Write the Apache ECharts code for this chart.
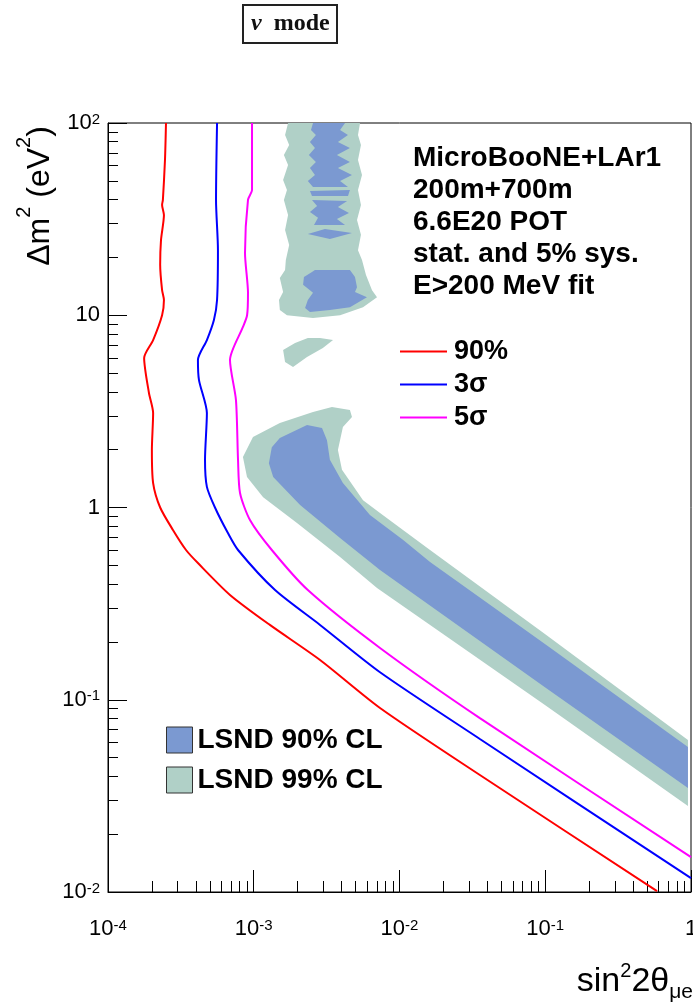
<!DOCTYPE html>
<html><head><meta charset="utf-8">
<script src="https://cdn.jsdelivr.net/npm/echarts@6/dist/echarts.min.js"></script>
<style>html,body{margin:0;padding:0;background:#fff}#c{width:693px;height:1005px}</style>
</head><body><div id="c"></div>
<script>
// ---- tick values / labels ----
const xTickValues = [1e-4, 1e-3, 1e-2, 1e-1, 1];
const xTickLabels = ['10{s|-4}', '10{s|-3}', '10{s|-2}', '10{s|-1}', '1'];
const yTickValues = [1e-2, 1e-1, 1, 10, 100];
const yTickLabels = ['10{s|-2}', '10{s|-1}', '1', '10', '10{s|2}'];

// ---- sensitivity contours [sin^2 2theta, dm^2] ----
const curve90 = [
  [2.50e-4, 100], [2.46e-4, 64.2], [2.38e-4, 39.8], [2.35e-4, 37.5], [2.42e-4, 33.2],
  [2.31e-4, 24.6], [2.28e-4, 18.3], [2.35e-4, 13.5], [2.42e-4, 12.0], [2.35e-4, 10.0],
  [2.04e-4, 7.43], [1.77e-4, 6.0], [1.91e-4, 3.94], [2.04e-4, 3.10], [2.00e-4, 1.99],
  [2.04e-4, 1.34], [2.28e-4, 1.0], [2.79e-4, 0.764], [3.43e-4, 0.601], [4.14e-4, 0.514],
  [6.87e-4, 0.351], [1.29e-3, 0.245], [2.85e-3, 0.161], [7.35e-3, 0.0906],
  [0.0356, 0.0406], [0.585, 0.0101]
];
const curve3s = [
  [5.60e-4, 100], [5.51e-4, 39.8], [5.68e-4, 21.8], [5.60e-4, 12.0], [5.33e-4, 9.45],
  [4.77e-4, 7.43], [4.14e-4, 5.85], [4.21e-4, 4.60], [4.77e-4, 3.10], [4.63e-4, 1.77],
  [4.77e-4, 1.28], [5.42e-4, 1.0], [6.65e-4, 0.736], [7.80e-4, 0.601], [1.40e-3, 0.372],
  [2.85e-3, 0.245], [7.35e-3, 0.139], [0.0356, 0.0625], [1.0, 0.0118]
];
const curve5s = [
  [9.73e-4, 100], [9.73e-4, 44.8], [9.13e-4, 39.8], [8.71e-4, 21.1], [9.13e-4, 13.1],
  [9.0e-4, 10.0], [8.43e-4, 8.69], [6.87e-4, 5.85], [7.55e-4, 3.62], [7.80e-4, 1.77],
  [8.05e-4, 1.19], [9.42e-4, 0.861], [1.33e-3, 0.601], [2.35e-3, 0.372], [7.35e-3, 0.186],
  [0.0356, 0.0803], [1.0, 0.0152]
];

// ---- LSND allowed regions (polygons) ----
const lsnd99Band = [
  [0.953, 0.0617], [0.0995, 0.220], [0.0162, 0.601], [7.35e-3, 0.935], [5.62e-3, 1.09],
  [4.03e-3, 1.57], [3.78e-3, 1.99], [4.09e-3, 2.62], [4.72e-3, 2.96], [4.57e-3, 3.21],
  [3.44e-3, 3.33], [2.55e-3, 3.14], [1.51e-3, 2.75], [9.88e-4, 2.33], [8.43e-4, 1.83],
  [8.99e-4, 1.44], [1.16e-3, 1.13], [1.98e-3, 0.830], [3.91e-3, 0.553], [7.01e-3, 0.381],
  [0.0995, 0.0939], [0.953, 0.0280]
];
const lsnd99Upper = [
  [1.72e-3, 100], [1.64e-3, 86.6], [1.75e-3, 76.8], [1.61e-3, 68.2], [1.72e-3, 60.5],
  [1.59e-3, 50.5], [1.69e-3, 44.8], [1.61e-3, 39.8], [1.72e-3, 33.2], [1.64e-3, 27.8],
  [1.75e-3, 23.2], [1.66e-3, 19.4], [1.64e-3, 17.2], [1.51e-3, 15.6], [1.59e-3, 13.2],
  [1.49e-3, 12.0], [1.51e-3, 10.65], [1.69e-3, 10.0], [2.55e-3, 9.67], [3.91e-3, 10.0],
  [5.62e-3, 11.0], [7.01e-3, 12.4], [6.48e-3, 13.5], [5.89e-3, 16.2], [5.53e-3, 19.4],
  [5.19e-3, 21.8], [5.44e-3, 26.2], [5.11e-3, 31.3], [5.44e-3, 37.5], [5.19e-3, 44.8],
  [5.53e-3, 53.6], [5.19e-3, 64.2], [5.44e-3, 76.8], [5.19e-3, 86.6], [5.36e-3, 100]
];
const lsnd99Island = [
  [1.59e-3, 6.60], [1.92e-3, 7.17], [2.35e-3, 7.61], [2.85e-3, 7.61], [3.50e-3, 7.43],
  [2.98e-3, 6.75], [2.32e-3, 6.06], [1.86e-3, 5.38], [1.64e-3, 5.71]
];
const lsnd90Band = [
  [0.953, 0.0568], [0.0995, 0.195], [0.0162, 0.521], [0.0106, 0.678], [6.27e-3, 0.914],
  [4.09e-3, 1.34], [3.33e-3, 1.77], [3.18e-3, 2.24], [2.94e-3, 2.59], [2.32e-3, 2.69],
  [1.51e-3, 2.30], [1.33e-3, 2.06], [1.27e-3, 1.70], [1.36e-3, 1.44], [2.08e-3, 1.03],
  [3.91e-3, 0.694], [7.35e-3, 0.473], [0.0995, 0.116], [0.953, 0.0348]
];
const lsnd90Column = [
  [2.55e-3, 100], [4.23e-3, 100], [3.91e-3, 91.9], [4.43e-3, 86.6], [3.78e-3, 79.6],
  [4.57e-3, 74.1], [3.72e-3, 68.2], [4.57e-3, 62.7], [3.78e-3, 58.3], [4.72e-3, 53.6],
  [3.91e-3, 49.9], [4.43e-3, 46.5], [2.55e-3, 46.5], [2.35e-3, 49.9], [2.63e-3, 53.6],
  [2.43e-3, 58.3], [2.67e-3, 62.7], [2.39e-3, 68.2], [2.63e-3, 74.1], [2.43e-3, 79.6],
  [2.67e-3, 86.6], [2.47e-3, 91.9]
];
const lsnd90Stripe = [[2.43e-3, 44.3], [4.57e-3, 44.8], [4.43e-3, 41.7], [2.51e-3, 41.7]];
const lsnd90Comb = [
  [2.51e-3, 39.8], [4.37e-3, 39.3], [3.78e-3, 36.6], [4.50e-3, 34.0], [3.72e-3, 31.7],
  [4.23e-3, 29.5], [2.59e-3, 29.5], [2.76e-3, 32.1], [2.43e-3, 34.4], [2.72e-3, 37.0]
];
const lsnd90Lens = [[2.35e-3, 26.5], [3.08e-3, 28.1], [4.72e-3, 26.8], [3.33e-3, 24.9]];
const lsnd90Blob = [
  [2.63e-3, 17.2], [4.57e-3, 17.2], [4.95e-3, 15.8], [5.11e-3, 14.0], [4.95e-3, 13.2],
  [5.98e-3, 12.4], [4.57e-3, 11.0], [3.33e-3, 10.65], [2.43e-3, 10.4], [2.25e-3, 10.9],
  [2.35e-3, 12.0], [2.55e-3, 13.1], [2.43e-3, 13.5], [2.18e-3, 14.4], [2.21e-3, 15.8],
  [2.51e-3, 16.8]
];

const infoLines = ['MicroBooNE+LAr1', '200m+700m', '6.6E20 POT', 'stat. and 5% sys.', 'E>200 MeV fit'];

// ---- minor tick positions (log decades) ----
function minorTicks(d0, d1) {
  const out = [];
  for (let d = d0; d < d1; d++) for (let k = 2; k <= 9; k++) out.push(k * Math.pow(10, d));
  return out;
}
const xMinor = minorTicks(-4, 0);
const yMinor = minorTicks(-2, 2);

const FONT = 'Liberation Sans, Arial, sans-serif';
const C99 = '#b0d0c7';
const C90 = '#7b99d1';

function labelFor(values, labels) {
  return function (v) {
    const lv = Math.log10(v);
    for (let i = 0; i < values.length; i++) {
      if (Math.abs(Math.log10(values[i]) - lv) < 1e-6) return labels[i];
    }
    return '';
  };
}
const labelRich = {
  s: { fontSize: 15, fontFamily: FONT, color: '#000', verticalAlign: 'top', lineHeight: 14, padding: [0, 0, 10, 0] }
};

function polySeries(name, color, polys) {
  return {
    name: name,
    type: 'custom',
    coordinateSystem: 'cartesian2d',
    xAxisIndex: 0, yAxisIndex: 0,
    itemStyle: { color: color },
    silent: true,
    data: polys.map(p => [p[0][0], p[0][1]]),
    renderItem: function (params, api) {
      const pts = polys[params.dataIndex].map(p => api.coord(p));
      return { type: 'polygon', shape: { points: pts }, style: { fill: color, stroke: null } };
    }
  };
}

function lineSeries(name, color, data) {
  return {
    name: name, type: 'line', data: data, showSymbol: false, symbol: 'none',
    xAxisIndex: 0, yAxisIndex: 0, smooth: 0.25,
    lineStyle: { color: color, width: 2 }, itemStyle: { color: color },
    clip: true, silent: true, animation: false
  };
}

const chart = echarts.init(document.getElementById('c'), null, { renderer: 'canvas' });
chart.setOption({
  animation: false,
  backgroundColor: '#fff',
  title: {
    text: '{i|ν} mode',
    left: 243, top: 5,
    padding: [7, 8, 7, 8],
    borderColor: '#222', borderWidth: 2,
    textStyle: {
      fontFamily: 'Liberation Serif, Times New Roman, serif', fontSize: 24, fontWeight: 'bold', color: '#111',
      rich: { i: { fontFamily: 'Liberation Serif, serif', fontSize: 24, fontStyle: 'italic', color: '#111', padding: [0, 6, 0, 0] } }
    }
  },
  grid: {
    left: 108, top: 123, width: 583, height: 769,
    show: true, borderColor: '#000', borderWidth: 1, backgroundColor: 'transparent',
    containLabel: false, outerBoundsMode: 'none'
  },
  legend: [
    {
      data: ['90%', '3σ', '5σ'],
      orient: 'vertical', left: 395, top: 333,
      icon: 'rect', itemWidth: 47, itemHeight: 2, itemGap: 6,
      selectedMode: false,
      textStyle: { fontFamily: FONT, fontSize: 27, fontWeight: 'bold', color: '#000', lineHeight: 27, padding: [0, 0, 0, 2] }
    },
    {
      data: ['LSND 90% CL', 'LSND 99% CL'],
      orient: 'vertical', left: 161, top: 721,
      icon: 'rect', itemWidth: 26, itemHeight: 26, itemGap: 12,
      selectedMode: false,
      itemStyle: { borderColor: '#333', borderWidth: 1 },
      textStyle: { fontFamily: FONT, fontSize: 28, fontWeight: 'bold', color: '#000', lineHeight: 26, padding: [0, 0, 0, 0] }
    }
  ],
  xAxis: [
    {
      type: 'log', logBase: 10, min: 1e-4, max: 1, position: 'bottom',
      axisLine: { show: true, lineStyle: { color: '#000', width: 1 } },
      axisTick: { show: true, inside: true, length: 22, customValues: xTickValues, lineStyle: { color: '#000', width: 1 } },
      axisLabel: {
        show: true, customValues: xTickValues, margin: 26, formatter: labelFor(xTickValues, xTickLabels),
        fontFamily: FONT, fontSize: 22, color: '#000', rich: labelRich
      },
      splitLine: { show: false }, minorTick: { show: false }
    },
    {
      type: 'log', logBase: 10, min: 1e-4, max: 1, position: 'bottom',
      axisLine: { show: false },
      axisTick: { show: true, inside: true, length: 11, customValues: xMinor, lineStyle: { color: '#000', width: 1 } },
      axisLabel: { show: false },
      splitLine: { show: false }
    }
  ],
  yAxis: [
    {
      type: 'log', logBase: 10, min: 1e-2, max: 100, position: 'left',
      axisLine: { show: true, lineStyle: { color: '#000', width: 1 } },
      axisTick: { show: true, inside: true, length: 19, customValues: yTickValues, lineStyle: { color: '#000', width: 1 } },
      axisLabel: {
        show: true, customValues: yTickValues, margin: 8, formatter: labelFor(yTickValues, yTickLabels),
        fontFamily: FONT, fontSize: 22, color: '#000', rich: labelRich
      },
      splitLine: { show: false }, minorTick: { show: false }
    },
    {
      type: 'log', logBase: 10, min: 1e-2, max: 100, position: 'left',
      axisLine: { show: false },
      axisTick: { show: true, inside: true, length: 10, customValues: yMinor, lineStyle: { color: '#000', width: 1 } },
      axisLabel: { show: false },
      splitLine: { show: false }
    }
  ],
  series: [
    polySeries('LSND 99% CL', C99, [lsnd99Band, lsnd99Upper, lsnd99Island]),
    polySeries('LSND 90% CL', C90, [lsnd90Band, lsnd90Column, lsnd90Stripe, lsnd90Comb, lsnd90Lens, lsnd90Blob]),
    lineSeries('90%', '#ff0000', curve90),
    lineSeries('3σ', '#0000ff', curve3s),
    lineSeries('5σ', '#ff00ff', curve5s)
  ],
  graphic: [
    {
      type: 'text', left: 413, top: 142,
      style: { text: infoLines.join('\n'), font: 'bold 28px ' + FONT, fill: '#000', lineHeight: 32 }
    },
    {
      type: 'text', x: 35, y: 196, rotation: Math.PI / 2,
      style: {
        text: '{a|Δm}{s|2}{a| (eV}{s|2}{a|)}',
        align: 'center', verticalAlign: 'middle', textAlign: 'center', textVerticalAlign: 'middle',
        rich: {
          a: { fontFamily: FONT, fontSize: 32, fill: '#000', lineHeight: 42, verticalAlign: 'bottom' },
          s: { fontFamily: FONT, fontSize: 20, fill: '#000', verticalAlign: 'top', lineHeight: 27 }
        }
      }
    },
    {
      type: 'text', right: 0, bottom: 2,
      style: {
        text: '{a|sin}{s|2}{a|2θ}{b|μe}',
        rich: {
          a: { fontFamily: FONT, fontSize: 34, fill: '#000', lineHeight: 42, verticalAlign: 'middle' },
          s: { fontFamily: FONT, fontSize: 20, fill: '#000', verticalAlign: 'top', lineHeight: 24 },
          b: { fontFamily: FONT, fontSize: 21, fill: '#000', verticalAlign: 'bottom', lineHeight: 21 }
        }
      }
    }
  ]
});
</script>
</body></html>
